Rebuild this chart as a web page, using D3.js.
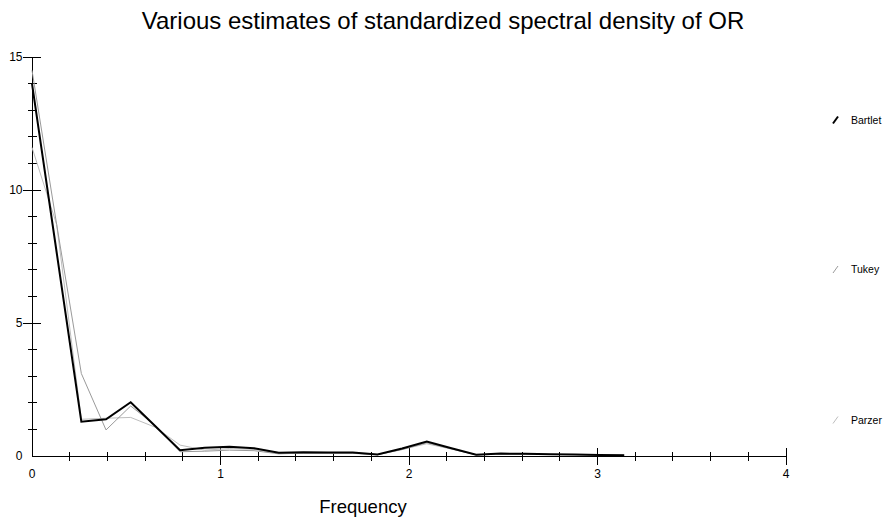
<!DOCTYPE html>
<html>
<head>
<meta charset="utf-8">
<script src="https://cdn.jsdelivr.net/npm/d3@7/dist/d3.min.js"></script>
<style>
  html, body { margin: 0; padding: 0; background: #fff; }
  svg { display: block; }
  text { font-family: "Liberation Sans", Arial, sans-serif; fill: #000; }
</style>
</head>
<body>
<svg id="chart" width="886" height="519"></svg>
<script>
// ---- data ----
const title = "Various estimates of standardized spectral density of OR";
const xLabel = "Frequency";
const nFreq = 25; // Fourier frequencies 2*pi*k/48, k = 0..24
const frequencies = d3.range(nFreq).map(k => 2 * Math.PI * k / 48);
const bartlet = [14.0, 7.65, 1.29, 1.38, 2.02, 1.12, 0.22, 0.31, 0.35, 0.29, 0.12, 0.14, 0.13,
                 0.13, 0.06, 0.28, 0.54, 0.29, 0.05, 0.09, 0.08, 0.07, 0.06, 0.04, 0.03];
const tukey   = [14.5, 8.7, 3.1, 0.98, 1.88, 1.15, 0.16, 0.18, 0.22, 0.20, 0.08, 0.11, 0.10,
                 0.10, 0.05, 0.24, 0.50, 0.27, 0.04, 0.08, 0.07, 0.06, 0.05, 0.04, 0.03];
const parzer  = [11.6, 8.7, 1.38, 1.42, 1.45, 1.08, 0.41, 0.22, 0.28, 0.25, 0.10, 0.12, 0.11,
                 0.11, 0.05, 0.25, 0.46, 0.26, 0.05, 0.07, 0.07, 0.06, 0.05, 0.04, 0.03];
const seriesNames = ["Bartlet", "Tukey", "Parzer"];
const seriesValues = [bartlet, tukey, parzer];
const seriesColors = ["#000000", "#9a9a9a", "#bdbdbd"];
const seriesWidths = [2, 1, 1];
const xMajorTicks = [1, 2, 3, 4];
const xMinorTicks = d3.range(1, 20).map(i => i * 0.2).filter(v => Math.abs(v - Math.round(v)) > 1e-6);
const xTickLabels = [0, 1, 2, 3, 4];
const yMajorTicks = [5, 10, 15];
const yMinorTicks = d3.range(1, 15).filter(v => v % 5 !== 0);
const yTickLabels = [0, 5, 10, 15];

// ---- layout ----
const svg = d3.select("#chart");
const x = d3.scaleLinear().domain([0, 4]).range([32, 786]);
const y = d3.scaleLinear().domain([0, 15]).range([456, 57]);

svg.append("text").attr("x", 443).attr("y", 29).attr("text-anchor", "middle")
  .style("font-size", "24px").text(title);

// axes
const ax = svg.append("g").attr("stroke", "#000").attr("stroke-width", 1).attr("shape-rendering", "crispEdges");
ax.append("line").attr("x1", x(0)).attr("x2", x(4)).attr("y1", y(0)).attr("y2", y(0));
ax.append("line").attr("x1", x(0)).attr("x2", x(0)).attr("y1", y(0)).attr("y2", y(15));
ax.selectAll(".xmaj").data(xMajorTicks).join("line")
  .attr("x1", d => x(d)).attr("x2", d => x(d)).attr("y1", y(0) - 8).attr("y2", y(0) + 9);
ax.selectAll(".xmin").data(xMinorTicks).join("line")
  .attr("x1", d => x(d)).attr("x2", d => x(d)).attr("y1", y(0) - 4.5).attr("y2", y(0) + 5);
ax.selectAll(".ymaj").data(yMajorTicks).join("line")
  .attr("y1", d => y(d)).attr("y2", d => y(d)).attr("x1", x(0) - 9).attr("x2", x(0) + 9);
ax.selectAll(".ymin").data(yMinorTicks).join("line")
  .attr("y1", d => y(d)).attr("y2", d => y(d)).attr("x1", x(0) - 4.5).attr("x2", x(0) + 4.5);

svg.selectAll(".xl").data(xTickLabels).join("text")
  .attr("x", d => x(d)).attr("y", 478).attr("text-anchor", "middle")
  .style("font-size", "12px").text(d => d);
svg.selectAll(".yl").data(yTickLabels).join("text")
  .attr("x", 22.5).attr("y", d => y(d) + 4.3).attr("text-anchor", "end")
  .style("font-size", "12px").text(d => d);

svg.append("text").attr("x", 363).attr("y", 513).attr("text-anchor", "middle")
  .style("font-size", "18.5px").text(xLabel);

// lines (draw lighter first)
const line = d3.line().x((d, i) => x(frequencies[i])).y(d => y(d));
[2, 1, 0].forEach(s => {
  svg.append("path").datum(seriesValues[s])
    .attr("fill", "none").attr("stroke", seriesColors[s]).attr("stroke-width", seriesWidths[s])
    .attr("stroke-linejoin", "miter").attr("d", line);
});

// legend
const legendY = [120, 269.5, 420];
seriesNames.forEach((name, i) => {
  const g = svg.append("g");
  g.append("line").attr("x1", 833).attr("x2", 838).attr("y1", legendY[i] + 3.5).attr("y2", legendY[i] - 3.5)
    .attr("stroke", seriesColors[i]).attr("stroke-width", seriesWidths[i]);
  g.append("text").attr("x", 851).attr("y", legendY[i] + 3.5)
    .style("font-size", "10.5px").text(name);
});
</script>
</body>
</html>
